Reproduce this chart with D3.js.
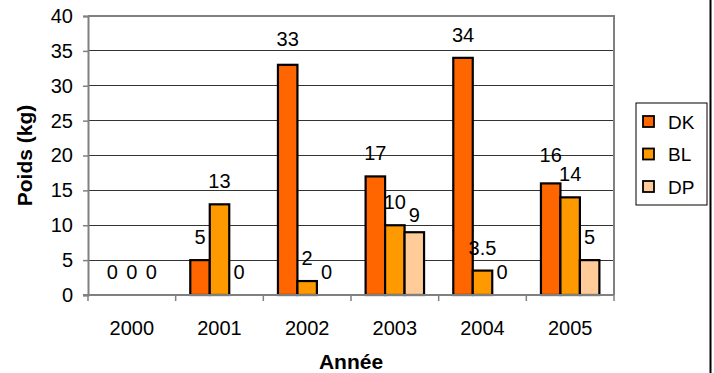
<!DOCTYPE html>
<html>
<head>
<meta charset="utf-8">
<script src="https://cdn.jsdelivr.net/npm/d3@7"></script>
<style>
  html, body { margin: 0; padding: 0; background: #fff; }
  svg { display: block; }
  svg text { font-family: "Liberation Sans", Arial, sans-serif; }
</style>
</head>
<body>
<svg id="chart" width="714" height="373"></svg>
<script>
// Weight per year for each catch type
const years = ["2000", "2001", "2002", "2003", "2004", "2005"];
const seriesNames = ["DK", "BL", "DP"];
const dkValues = [0, 5, 33, 17, 34, 16];
const blValues = [0, 13, 2, 10, 3.5, 14];
const dpValues = [0, 0, 0, 9, 0, 5];
const yTicks = [0, 5, 10, 15, 20, 25, 30, 35, 40];

const seriesValues = { DK: dkValues, BL: blValues, DP: dpValues };
const colors = { DK: "#FF6600", BL: "#FF9900", DP: "#FFCC99" };

// Small vertical shifts that keep crowded value labels apart
const labelShift = { "DK-2005": -5, "DP-2003": 6, "DK-2002": -3 };

const FONT = "'Liberation Sans', Arial, sans-serif";
const svg = d3.select("#chart");
const plot = { left: 88, right: 614, top: 16, bottom: 295 };

const x0 = d3.scaleBand().domain(years).range([plot.left, plot.right]).paddingInner(0).paddingOuter(0);
const x1 = d3.scaleBand().domain(seriesNames).range([0, x0.bandwidth()]).paddingInner(0).paddingOuter(0.75);
const y = d3.scaleLinear().domain([0, 40]).range([plot.bottom, plot.top]);

// Horizontal gridlines
svg.append("g")
  .selectAll("line")
  .data(yTicks.filter(t => t > 0 && t < 40))
  .join("line")
  .attr("x1", plot.left).attr("x2", plot.right)
  .attr("y1", d => y(d)).attr("y2", d => y(d))
  .attr("stroke", "#333").attr("stroke-width", 1)
  .attr("shape-rendering", "crispEdges");

// Plot frame (top and right)
svg.append("path")
  .attr("d", `M${plot.left},${y(40)}H${plot.right}V${plot.bottom}`)
  .attr("fill", "none").attr("stroke", "#808080").attr("stroke-width", 2);

// Bars
const rows = years.map((yr, i) => ({ year: yr, values: seriesNames.map(k => ({ key: k, year: yr, value: seriesValues[k][i] })) }));

const groups = svg.append("g").selectAll("g")
  .data(rows)
  .join("g")
  .attr("transform", d => `translate(${x0(d.year)},0)`);

groups.selectAll("rect")
  .data(d => d.values.filter(v => v.value > 0))
  .join("rect")
  .attr("x", d => x1(d.key))
  .attr("width", x1.bandwidth())
  .attr("y", d => y(d.value))
  .attr("height", d => y(0) - y(d.value))
  .attr("fill", d => colors[d.key])
  .attr("stroke", "#000")
  .attr("stroke-width", 2.2);

// Value labels
groups.selectAll("text")
  .data(d => d.values)
  .join("text")
  .attr("x", d => x1(d.key) + x1.bandwidth() / 2)
  .attr("y", d => y(d.value) - 16 + (labelShift[d.key + "-" + d.year] || 0))
  .attr("text-anchor", "middle")
  .attr("font-size", 20)
  .attr("fill", "#000")
  .text(d => d.value);

// Y axis
const yAxis = svg.append("g")
  .attr("transform", `translate(${plot.left},0)`)
  .call(d3.axisLeft(y).tickValues(yTicks).tickSize(5).tickPadding(10).tickFormat(d3.format("d")));
yAxis.attr("font-family", FONT).attr("font-size", 20);
yAxis.select(".domain").attr("stroke", "#808080").attr("stroke-width", 2);
yAxis.selectAll(".tick line").attr("stroke", "#808080").attr("stroke-width", 1.5);
yAxis.selectAll(".tick text").attr("fill", "#000");

// X axis with ticks at category boundaries
const xAxisG = svg.append("g").attr("transform", `translate(0,${plot.bottom})`);
xAxisG.append("line")
  .attr("x1", plot.left - 5).attr("x2", plot.right)
  .attr("stroke", "#808080").attr("stroke-width", 2);
const boundaries = years.map(yr => x0(yr)).concat([x0(years[years.length - 1]) + x0.bandwidth()]);
xAxisG.selectAll("line.tick")
  .data(boundaries)
  .join("line")
  .attr("class", "tick")
  .attr("x1", d => d).attr("x2", d => d)
  .attr("y1", 0).attr("y2", 6)
  .attr("stroke", "#808080").attr("stroke-width", 1.5);
xAxisG.selectAll("text")
  .data(years)
  .join("text")
  .attr("x", d => x0(d) + x0.bandwidth() / 2)
  .attr("y", 40)
  .attr("text-anchor", "middle")
  .attr("font-size", 20)
  .text(d => d);

// Axis titles
svg.append("text")
  .attr("x", (plot.left + plot.right) / 2)
  .attr("y", 369)
  .attr("text-anchor", "middle")
  .attr("font-size", 21).attr("font-weight", "bold")
  .text("Année");

svg.append("text")
  .attr("transform", `translate(32,${(plot.top + plot.bottom) / 2}) rotate(-90)`)
  .attr("text-anchor", "middle")
  .attr("font-size", 21).attr("font-weight", "bold")
  .text("Poids (kg)");

// Legend
const legend = svg.append("g").attr("transform", "translate(636,103)");
legend.append("rect")
  .attr("width", 71).attr("height", 102)
  .attr("fill", "#fff").attr("stroke", "#000").attr("stroke-width", 1);
const entry = legend.selectAll("g.entry")
  .data(seriesNames)
  .join("g")
  .attr("class", "entry")
  .attr("transform", (d, i) => `translate(0,${18.5 + i * 32.5})`);
entry.append("rect")
  .attr("x", 7).attr("y", -5.5).attr("width", 11).attr("height", 11)
  .attr("fill", d => colors[d]).attr("stroke", "#000").attr("stroke-width", 1.8);
entry.append("text")
  .attr("x", 32).attr("y", 7)
  .attr("font-size", 19)
  .text(d => d);

// Chart border on the right edge
svg.append("line")
  .attr("x1", 710.5).attr("x2", 710.5).attr("y1", 0).attr("y2", 373)
  .attr("stroke", "#000").attr("stroke-width", 2);
</script>
</body>
</html>
